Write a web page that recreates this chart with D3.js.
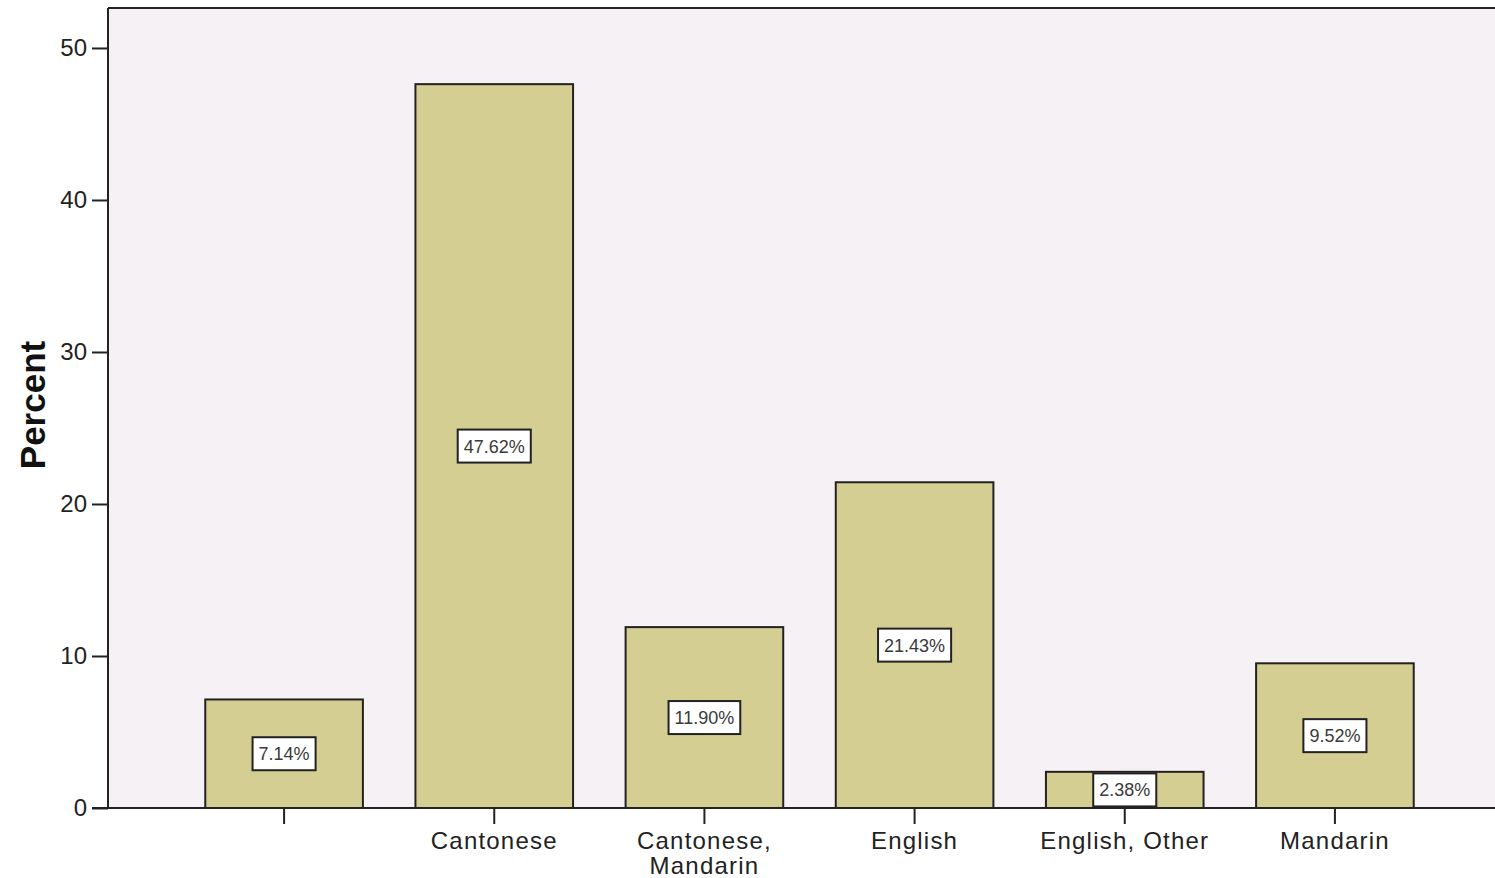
<!DOCTYPE html>
<html>
<head>
<meta charset="utf-8">
<script src="https://cdn.jsdelivr.net/npm/d3@7"></script>
<style>
  html, body { margin: 0; padding: 0; background: #ffffff; }
  svg { display: block; }
</style>
</head>
<body>
<svg id="chart" width="1495" height="878"></svg>
<script>
// Language categories and their share of respondents (percent)
const categories = ["", "Cantonese", "Cantonese,\nMandarin", "English", "English, Other", "Mandarin"];
const percents = [7.14, 47.62, 11.90, 21.43, 2.38, 9.52];
const valueLabels = ["7.14%", "47.62%", "11.90%", "21.43%", "2.38%", "9.52%"];
const yTicks = [0, 10, 20, 30, 40, 50];

const plot = { left: 108, top: 8, right: 1495, bottom: 808 };
const FONT = "Liberation Sans, Arial, sans-serif";

const svg = d3.select("#chart");

const x = d3.scaleBand()
  .domain(categories)
  .range([179, 1440])
  .paddingInner(0.25)
  .paddingOuter(0.125);

const y = d3.scaleLinear()
  .domain([0, 52.63])
  .range([plot.bottom, plot.top]);

// Plot background
svg.append("rect")
  .attr("x", plot.left).attr("y", plot.top)
  .attr("width", plot.right - plot.left).attr("height", plot.bottom - plot.top)
  .attr("fill", "#f6f1f5");

// Bars
svg.append("g").selectAll("rect")
  .data(categories)
  .join("rect")
  .attr("x", d => x(d))
  .attr("y", (d, i) => y(percents[i]))
  .attr("width", x.bandwidth())
  .attr("height", (d, i) => y(0) - y(percents[i]))
  .attr("fill", "#d4ce93")
  .attr("stroke", "#222")
  .attr("stroke-width", 2);

// Value labels in boxes at bar mid-height
const lbl = svg.append("g").selectAll("g")
  .data(categories)
  .join("g")
  .attr("transform", (d, i) => `translate(${x(d) + x.bandwidth() / 2},${y(percents[i] / 2)})`);

const boxes = lbl.append("rect")
  .attr("fill", "#ffffff")
  .attr("stroke", "#222")
  .attr("stroke-width", 2);

const texts = lbl.append("text")
  .attr("text-anchor", "middle")
  .attr("dy", "0.36em")
  .attr("font-family", FONT)
  .attr("font-size", 18)
  .attr("fill", "#3a3a3a")
  .text((d, i) => valueLabels[i]);

texts.each(function(d, i) {
  const w = this.getComputedTextLength() + 12;
  d3.select(boxes.nodes()[i])
    .attr("x", -w / 2).attr("y", -16.5)
    .attr("width", w).attr("height", 33);
});

// Frame: top edge of the plot
svg.append("line")
  .attr("x1", plot.left).attr("x2", plot.right)
  .attr("y1", plot.top).attr("y2", plot.top)
  .attr("stroke", "#222").attr("stroke-width", 2);

// Y axis
const yAxis = svg.append("g")
  .attr("transform", `translate(${plot.left},0)`)
  .call(d3.axisLeft(y).tickValues(yTicks).tickSize(16).tickPadding(5).tickSizeOuter(0));
yAxis.select(".domain").attr("stroke", "#222").attr("stroke-width", 2)
  .attr("d", `M0,${plot.top}V${plot.bottom}`);
yAxis.selectAll(".tick line").attr("stroke", "#222").attr("stroke-width", 2);
yAxis.selectAll(".tick text")
  .attr("font-family", FONT)
  .attr("font-size", 24)
  .attr("fill", "#222");

// X axis
const xAxis = svg.append("g")
  .attr("transform", `translate(0,${plot.bottom})`)
  .call(d3.axisBottom(x).tickSize(16).tickSizeOuter(0));
xAxis.select(".domain").attr("stroke", "#222").attr("stroke-width", 2)
  .attr("d", `M${plot.left - 16},0H${plot.right}`);
xAxis.selectAll(".tick line").attr("stroke", "#222").attr("stroke-width", 2);
xAxis.selectAll(".tick text").remove();
xAxis.selectAll(".tick").each(function(d) {
  const lines = d.split("\n");
  const t = d3.select(this).append("text")
    .attr("text-anchor", "middle")
    .attr("font-family", FONT)
    .attr("font-size", 24)
    .attr("letter-spacing", 1.2)
    .attr("fill", "#222");
  lines.forEach((s, k) => {
    t.append("tspan").attr("x", 0).attr("y", 41 + k * 25).text(s);
  });
});

// Y axis title
svg.append("text")
  .attr("transform", `translate(45,405) rotate(-90)`)
  .attr("text-anchor", "middle")
  .attr("font-family", FONT)
  .attr("font-weight", "bold")
  .attr("font-size", 35)
  .attr("fill", "#111")
  .text("Percent");
</script>
</body>
</html>
